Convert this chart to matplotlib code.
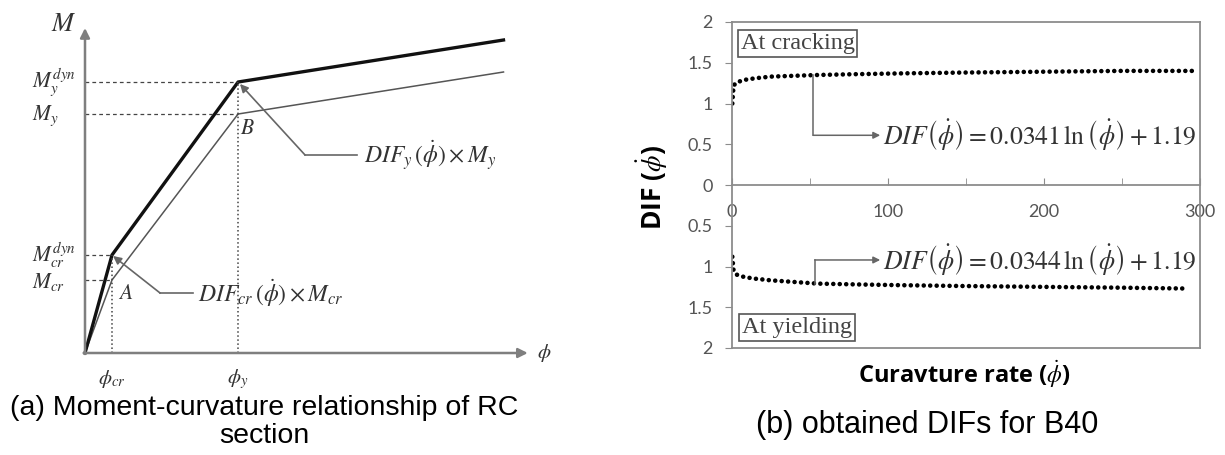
import matplotlib
matplotlib.use('Agg')
import matplotlib.pyplot as plt
from matplotlib.ticker import FuncFormatter, MultipleLocator

plt.rcParams['mathtext.fontset'] = 'stix'

# ---- (a) moment-curvature schematic (arbitrary units) ----
phi_pts = [0, 1.0, 5.67, 15.5]          # 0, phi_cr, phi_y, end
M_static = [0, 0.73, 2.39, 2.81]        # M_cr, M_y
M_dynamic = [0, 0.98, 2.71, 3.13]       # M_cr^dyn, M_y^dyn

# ---- (b) DIF vs curvature rate ----
rate_crack = [0.2, 1, 3, 8, 15, 25, 40, 55, 80, 110, 150, 200, 250, 295]
dif_crack = [1.00, 1.22, 1.26, 1.29, 1.31, 1.33, 1.34, 1.35, 1.36, 1.37, 1.38, 1.39, 1.40, 1.40]
rate_yield = [0.2, 1, 3, 8, 15, 25, 40, 55, 80, 110, 150, 200, 250, 290]
dif_yield = [0.88, 1.05, 1.10, 1.13, 1.15, 1.17, 1.19, 1.21, 1.22, 1.23, 1.24, 1.25, 1.26, 1.27]
xticks_major = [0, 100, 200, 300]
yticks = [-2, -1.5, -1, -0.5, 0, 0.5, 1, 1.5, 2]

fig = plt.figure(figsize=(12.25, 4.55), dpi=100)

# ================= left panel =================
ax1 = fig.add_axes([0, 0, 600 / 1225, 1])
ax1.set_xlim(-85 / 27, 515 / 27)
ax1.set_ylim(-1.02, 3.53)
ax1.axis('off')

txt = '#333333'
axc = '#7f7f7f'
# axes arrows
ax1.annotate('', xy=(0, 3.25), xytext=(0, -0.01),
             arrowprops=dict(arrowstyle='-|>', color=axc, lw=1.8, mutation_scale=14, shrinkA=0, shrinkB=0))
ax1.annotate('', xy=(16.4, 0), xytext=(-0.05, 0),
             arrowprops=dict(arrowstyle='-|>', color=axc, lw=1.8, mutation_scale=14, shrinkA=0, shrinkB=0))

ax1.plot(phi_pts, M_static, color='#555555', lw=1.1)
ax1.plot(phi_pts, M_dynamic, color='#111111', lw=2.4)

# guide lines
for m in [M_static[1], M_dynamic[1]]:
    ax1.plot([0, phi_pts[1]], [m, m], ls=(0, (3, 2.5)), color='#444444', lw=0.9)
for m in [M_static[2], M_dynamic[2]]:
    ax1.plot([0, phi_pts[2]], [m, m], ls=(0, (3, 2.5)), color='#444444', lw=0.9)
ax1.plot([phi_pts[1], phi_pts[1]], [0, M_dynamic[1]], ls=':', color='#444444', lw=1.1)
ax1.plot([phi_pts[2], phi_pts[2]], [0, M_dynamic[2]], ls=':', color='#444444', lw=1.1)

# labels
ax1.text(-0.78, 3.29, r'$M$', fontsize=19, color=txt, ha='center', va='center')
ax1.text(-1.95, M_dynamic[2], r'$M_y^{dyn}$', fontsize=15.5, color=txt, ha='left', va='center')
ax1.text(-1.95, M_static[2] - 0.02, r'$M_y$', fontsize=15.5, color=txt, ha='left', va='center')
ax1.text(-1.95, M_dynamic[1], r'$M_{cr}^{dyn}$', fontsize=15.5, color=txt, ha='left', va='center')
ax1.text(-1.95, M_static[1] - 0.02, r'$M_{cr}$', fontsize=15.5, color=txt, ha='left', va='center')
ax1.text(phi_pts[1], -0.26, r'$\phi_{cr}$', fontsize=15, color=txt, ha='center', va='center')
ax1.text(phi_pts[2], -0.26, r'$\phi_y$', fontsize=15, color=txt, ha='center', va='center')
ax1.text(17.0, 0, r'$\phi$', fontsize=15, color=txt, ha='center', va='center')
ax1.text(6.0, 2.25, r'$B$', fontsize=15.5, color=txt, ha='center', va='center')
ax1.text(1.5, 0.60, r'$A$', fontsize=15.5, color=txt, ha='center', va='center')

# DIF annotations
gc = '#666666'
ax1.annotate('', xy=(5.74, 2.69), xytext=(8.15, 1.98),
             arrowprops=dict(arrowstyle='-|>', color=gc, lw=1.2, mutation_scale=12, shrinkA=0, shrinkB=0))
ax1.plot([8.15, 10.07], [1.98, 1.98], color=gc, lw=1.2)
ax1.text(10.35, 1.98, r'$DIF_y\,(\dot{\phi})\times M_y$', fontsize=17, color=txt, ha='left', va='center')
ax1.annotate('', xy=(1.04, 0.97), xytext=(2.78, 0.60),
             arrowprops=dict(arrowstyle='-|>', color=gc, lw=1.2, mutation_scale=12, shrinkA=0, shrinkB=0))
ax1.plot([2.78, 4.0], [0.60, 0.60], color=gc, lw=1.2)
ax1.text(4.2, 0.60, r'$DIF_{cr}\,(\dot{\phi})\times M_{cr}$', fontsize=17, color=txt, ha='left', va='center')

fig.text(264 / 1225, 1 - 408 / 455, '(a) Moment-curvature relationship of RC', fontsize=20.5,
         family='Liberation Sans', ha='center', va='center')
fig.text(264 / 1225, 1 - 436 / 455, 'section', fontsize=20.5,
         family='Liberation Sans', ha='center', va='center')

# ================= right panel =================
ax2 = fig.add_axes([732 / 1225, 1 - 348 / 455, 468 / 1225, 326 / 455])
ax2.set_xlim(0, 300)
ax2.set_ylim(-2, 2)
sc = '#8c8c8c'
for s in ax2.spines.values():
    s.set_color(sc)
    s.set_linewidth(1.3)
ax2.spines['bottom'].set_position(('data', 0))
ax2.axhline(-2, color=sc, lw=1.3, clip_on=False)

dots = dict(color='black', lw=3.3, ls=(0, (0.01, 1.4)), dash_capstyle='round')
ax2.plot(rate_crack, dif_crack, **dots)
ax2.plot(rate_yield, [-v for v in dif_yield], **dots)

ax2.set_xticks(xticks_major)
ax2.xaxis.set_minor_locator(MultipleLocator(50))
ax2.set_yticks(yticks)
ax2.yaxis.set_major_formatter(FuncFormatter(lambda v, p: f'{abs(v):g}'))
ax2.tick_params(axis='x', which='both', direction='in', length=5, color=sc, pad=14,
                labelsize=13, labelcolor='#555555')
ax2.tick_params(axis='y', direction='out', length=5, color=sc, pad=9,
                labelsize=13, labelcolor='#555555')
for lab in ax2.get_xticklabels() + ax2.get_yticklabels():
    lab.set_family('Lato')

# equation arrows
ac = '#666666'
ax2.plot([52, 52], [1.35, 0.61], color=ac, lw=1.1)
ax2.annotate('', xy=(95, 0.61), xytext=(52, 0.61),
             arrowprops=dict(arrowstyle='-|>', color=ac, lw=1.1, mutation_scale=10, shrinkA=0, shrinkB=0))
ax2.text(97, 0.61, r'$DIF\left(\dot{\phi}\right) = 0.0341\,\ln\left(\dot{\phi}\right) + 1.19$',
         fontsize=18.5, color='#333333', ha='left', va='center')
ax2.plot([53, 53], [-1.21, -0.92], color=ac, lw=1.1)
ax2.annotate('', xy=(95, -0.92), xytext=(53, -0.92),
             arrowprops=dict(arrowstyle='-|>', color=ac, lw=1.1, mutation_scale=10, shrinkA=0, shrinkB=0))
ax2.text(97, -0.92, r'$DIF\left(\dot{\phi}\right) = 0.0344\,\ln\left(\dot{\phi}\right) + 1.19$',
         fontsize=18.5, color='#333333', ha='left', va='center')

box = dict(boxstyle='square,pad=0.12', fc='white', ec='#555555', lw=1.2)
ax2.text(5.5, 1.74, 'At cracking', fontsize=17.5, family='Liberation Serif', color='#444444',
         ha='left', va='center', bbox=box)
ax2.text(6.5, -1.75, 'At yielding', fontsize=17.5, family='Liberation Serif', color='#444444',
         ha='left', va='center', bbox=box)

fig.text(652 / 1225, 1 - 188 / 455, r'DIF ($\dot{\phi}$)', rotation=90, fontsize=19, fontweight='bold',
         family='Open Sans', ha='center', va='center')
fig.text(964 / 1225, 1 - 374 / 455, r'Curavture rate ($\dot{\phi}$)', fontsize=17, fontweight='bold',
         family='Open Sans', ha='center', va='center')
fig.text(927 / 1225, 1 - 425 / 455, '(b) obtained DIFs for B40', fontsize=22,
         family='Liberation Sans', ha='center', va='center')

fig.savefig('out.png', dpi=100)
